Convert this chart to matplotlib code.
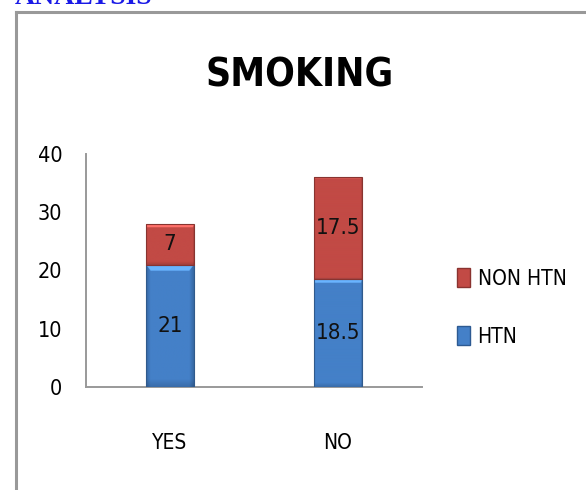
import numpy as np
import matplotlib
matplotlib.use("Agg")
import matplotlib.pyplot as plt
from matplotlib.patches import Patch
from matplotlib.lines import Line2D
from matplotlib.colors import to_rgb

plt.rcParams['font.family'] = ['DejaVu Sans']
plt.rcParams['font.stretch'] = 'condensed'

categories = ["YES", "NO"]
htn = [21, 18.5]
non_htn = [7, 17.5]
series_names = ["HTN", "NON HTN"]
yticks = [0, 10, 20, 30, 40]
title = "SMOKING"

blue = "#4480C8"
red = "#C24A45"

W, H = 586, 490
fig = plt.figure(figsize=(W / 100, H / 100), dpi=100)

# outer border (only top/left visible in reference)
fig.add_artist(Line2D([16 / W, 16 / W], [0, 1 - 12 / H], transform=fig.transFigure,
                      color="#999999", lw=2.2))
fig.add_artist(Line2D([16 / W, 1], [1 - 12 / H, 1 - 12 / H], transform=fig.transFigure,
                      color="#999999", lw=2.2))
# clipped heading text above the chart
fig.text(15 / W, 1 - 3.5 / H, "ANALYSIS", family="Liberation Serif", weight="bold",
         fontsize=20, color="#1A1AE6", va="baseline", ha="left", fontstretch="normal")

ax = fig.add_axes([86 / W, 1 - 387 / H, 336 / W, 233 / H])
x = np.arange(len(categories))
bw = 0.28
b1 = ax.bar(x, htn, bw, color=blue, zorder=2)
b2 = ax.bar(x, non_htn, bw, bottom=htn, color=red, zorder=2)

fig.canvas.draw()


def shade(bars, base):
    r, g, b = to_rgb(base)
    base_arr = np.array([r, g, b])
    for p in bars:
        bb = p.get_window_extent()
        pw, ph = max(int(bb.width), 2), max(int(bb.height), 2)
        img = np.ones((ph, pw, 3)) * base_arr
        yy, xx = np.mgrid[0:ph, 0:pw]
        edge = np.minimum(xx, pw - 1 - xx)
        img *= (0.82 + 0.18 * np.clip(edge / 6.0, 0, 1))[..., None]
        fromb = ph - 1 - yy
        img *= (0.85 + 0.15 * np.clip(fromb / 8.0, 0, 1))[..., None]
        top = (yy < 7) & (xx >= yy) & (xx <= pw - 1 - yy)
        img[top] = np.clip(base_arr * 1.25 + 0.08, 0, 1)
        img = np.clip(img, 0, 1)
        x0, y0 = p.get_x(), p.get_y()
        ax.imshow(img, extent=[x0, x0 + p.get_width(), y0, y0 + p.get_height()],
                  aspect="auto", zorder=3, clip_path=p, interpolation="bilinear")
        ax.add_patch(plt.Rectangle((x0, y0), p.get_width(), p.get_height(), fill=False,
                                   edgecolor=tuple(base_arr * 0.7), lw=0.8, zorder=4))


shade(b1, blue)
shade(b2, red)

for i in range(len(categories)):
    ax.text(x[i], htn[i] / 2, f"{htn[i]:g}", ha="center", va="center", fontsize=16,
            color="#111111", zorder=5)
    ax.text(x[i], htn[i] + non_htn[i] / 2, f"{non_htn[i]:g}", ha="center", va="center",
            fontsize=16, color="#111111", zorder=5)

ax.set_xlim(-0.5, 1.5)
ax.set_ylim(0, 40)
ax.set_yticks(yticks)
ax.set_xticks(x)
ax.set_xticklabels(categories, fontsize=15)
ax.tick_params(axis="y", length=0, pad=17, labelsize=15.5)
ax.tick_params(axis="x", length=0, pad=33)
for s in ["top", "right"]:
    ax.spines[s].set_visible(False)
for s in ["left", "bottom"]:
    ax.spines[s].set_color("#999999")
    ax.spines[s].set_linewidth(1.4)

fig.text(300 / W, 1 - 75 / H, title, ha="center", va="center", fontsize=28,
         weight="bold", color="black")

handles = [Patch(facecolor=red, edgecolor="#8a3330"), Patch(facecolor=blue, edgecolor="#2d5a92")]
fig.legend(handles, ["NON HTN", "HTN"], loc="center left",
           bbox_to_anchor=(438 / W, 1 - 307.5 / H), frameon=False, fontsize=15,
           handlelength=0.65, handleheight=1.0, handletextpad=0.35, labelspacing=1.8)

fig.savefig("out.png", dpi=100)
